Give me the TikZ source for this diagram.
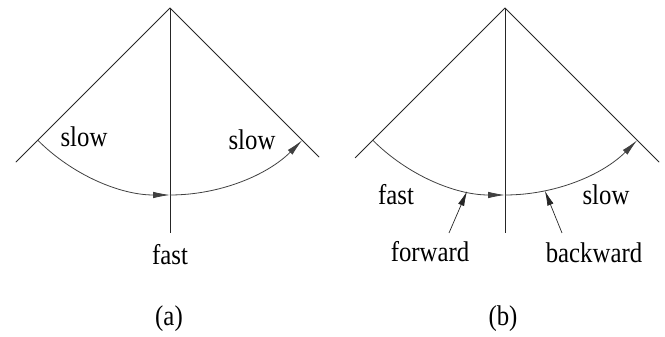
\documentclass[tikz,border=0pt]{standalone}
\usepackage{fontspec}
\setmainfont[FakeStretch=0.87]{Liberation Serif}
\usetikzlibrary{arrows.meta, calc}

\begin{document}
\begin{tikzpicture}[
  x=1pt, y=1pt,
  >={Latex[length=17pt, width=6.5pt]},
  edge/.style={line width=0.8pt, black!85},
  swing/.style={line width=0.8pt, black!75},
  pointer/.style={->, line width=0.7pt, black!85,
    >={Latex[length=15pt, width=6.5pt]}},
  lbl/.style={anchor=base, inner sep=0pt, font=\fontsize{28.5}{32}\selectfont},
]
\useasboundingbox (0,0) rectangle (665,337);

% ===== (a) =====
\coordinate (apexA) at (170, 329);
\coordinate (footA) at (170, 104);
\coordinate (leftA) at ($(apexA)+(225:218)$);
\coordinate (rightA) at ($(apexA)+(315:211)$);
\coordinate (arcLA) at ($(apexA)+(225:187)$);
\coordinate (arcMA) at ($(apexA)+(270:187)$);

\draw[edge] (apexA) -- (footA);
\draw[edge] (apexA) -- (leftA);
\draw[edge] (apexA) -- (rightA);
\draw[swing, ->] (arcLA) arc[start angle=225, end angle=270, radius=187];
\draw[swing, ->] (arcMA) arc[start angle=270, end angle=315, radius=187];

\node[lbl] (slowLA) at (84, 190) {slow};
\node[lbl] (slowRA) at (252, 187) {slow};
\node[lbl] (fastA) at (170, 72) {fast};
\node[lbl] (capA) at (169, 11) {(a)};

% ===== (b) =====
\coordinate (apexB) at (505, 329);
\coordinate (footB) at (505, 104);
\coordinate (leftB) at ($(apexB)+(225:212)$);
\coordinate (rightB) at ($(apexB)+(315:218)$);
\coordinate (arcLB) at ($(apexB)+(225:187)$);
\coordinate (arcMB) at ($(apexB)+(270:187)$);
\coordinate (hitF) at ($(apexB)+(258.3:187)$);
\coordinate (hitB) at ($(apexB)+(282.3:187)$);
\coordinate (tailF) at (449, 104);
\coordinate (tailB) at (562, 104);

\draw[edge] (apexB) -- (footB);
\draw[edge] (apexB) -- (leftB);
\draw[edge] (apexB) -- (rightB);
\draw[swing, ->] (arcLB) arc[start angle=225, end angle=270, radius=187];
\draw[swing, ->] (arcMB) arc[start angle=270, end angle=315, radius=187];
\draw[pointer] (tailF) -- (hitF);
\draw[pointer] (tailB) -- (hitB);

\node[lbl] (fastB) at (396, 132) {fast};
\node[lbl] (slowB) at (606, 132) {slow};
\node[lbl] (fwd) at (430, 75) {forward};
\node[lbl] (bwd) at (594, 74) {backward};
\node[lbl] (capB) at (503, 11) {(b)};

\end{tikzpicture}
\end{document}
